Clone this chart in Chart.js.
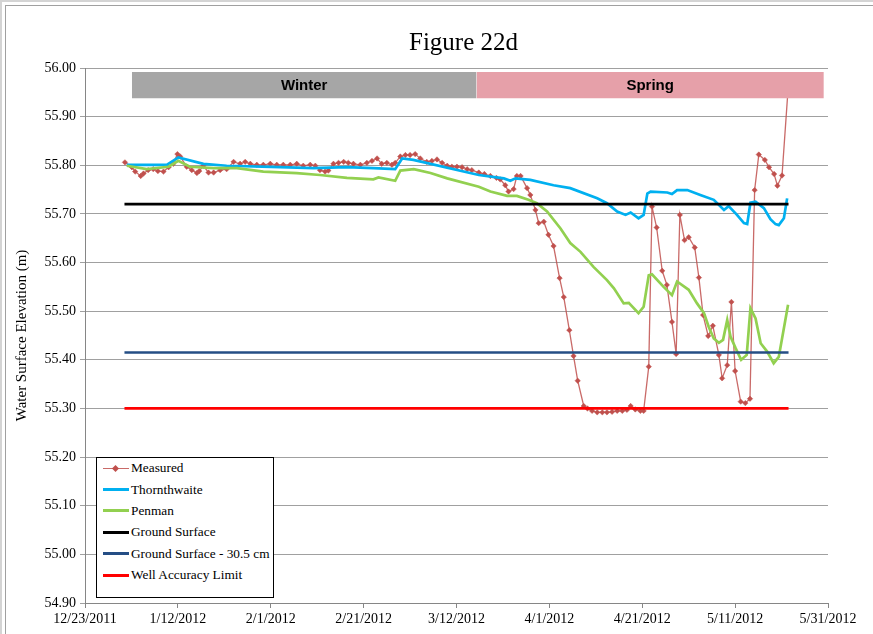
<!DOCTYPE html>
<html>
<head>
<meta charset="utf-8">
<title>Figure 22d</title>
<script src="https://cdn.jsdelivr.net/npm/chart.js@4.4.1/dist/chart.umd.min.js"></script>
<style>
  html, body { margin: 0; padding: 0; background: #fff; }
  #wrap { position: relative; width: 873px; height: 634px; overflow: hidden; background: #fff; }
  #frame1 { position: absolute; left: 0; top: 0; width: 1000px; height: 800px; border-left: 2px solid #d4d4d4; border-top: 2px solid #d4d4d4; }
  #frame2 { position: absolute; left: 5px; top: 5px; width: 1000px; height: 800px; border-left: 1px solid #a0a0a0; border-top: 1px solid #a0a0a0; }
  #chart { position: absolute; left: 0; top: 0; }
  #legend { position: absolute; left: 96px; top: 457px; width: 176px; height: 139px; border: 1px solid #000; background: #fff; font-family: "Liberation Serif", serif; font-size: 13.3px; color: #000; }
  .row { display: flex; align-items: center; height: 22.4px; margin-top: -1px; }
  .swatch { position: relative; width: 26px; margin-left: 6px; margin-right: 2px; }
  .swatch .ln { height: 3px; }
  .swatch .dot { position: absolute; left: 10px; top: -2px; width: 5px; height: 5px; transform: rotate(45deg); }
</style>
</head>
<body>
<div id="wrap">
  <div id="frame1"></div>
  <div id="frame2"></div>
  <canvas id="chart" width="873" height="634"></canvas>
  <div id="legend"></div>
</div>
<script>
// days counted from 12/23/2011
const tickDates = ['12/23/2011', '1/12/2012', '2/1/2012', '2/21/2012', '3/12/2012', '4/1/2012', '4/21/2012', '5/11/2012', '5/31/2012'];

const measuredDay = [8.6,10.1,10.8,12.0,12.6,13.6,14.7,15.7,16.9,18.0,19.0,19.9,20.5,21.9,23.0,24.1,24.6,25.5,26.6,27.7,29.1,30.5,32.0,33.4,34.5,35.6,37.0,38.4,39.9,41.3,42.7,44.2,45.6,47.0,48.5,49.6,50.6,51.7,52.4,53.5,54.6,55.7,56.7,57.8,59.3,60.7,61.8,62.9,63.9,65.0,66.1,66.8,67.9,69.0,70.0,71.1,72.2,73.6,74.7,75.8,76.9,78.0,79.0,80.1,81.2,82.3,83.3,84.8,86.0,87.3,88.6,89.4,90.5,91.2,92.3,93.0,93.8,95.2,95.9,97.0,97.7,98.8,99.8,100.9,102.2,103.1,104.3,105.2,106.1,107.4,108.2,109.2,110.3,111.4,112.4,113.5,114.6,115.7,116.7,117.5,118.5,119.6,120.3,121.4,122.1,123.1,124.3,125.3,126.4,127.3,128.1,129.1,130.0,131.3,132.2,133.1,134.2,135.2,136.5,137.2,138.3,139.2,140.0,141.2,142.2,143.2,144.2,145.1,146.4,147.3,148.4,149.1,150.1,151.5];
const measuredLevel = [55.806,55.796,55.787,55.778,55.783,55.790,55.792,55.788,55.787,55.796,55.803,55.823,55.818,55.797,55.790,55.784,55.788,55.799,55.785,55.785,55.790,55.792,55.807,55.803,55.807,55.803,55.801,55.801,55.803,55.801,55.801,55.801,55.803,55.799,55.801,55.799,55.790,55.787,55.789,55.803,55.805,55.807,55.805,55.803,55.801,55.805,55.809,55.814,55.803,55.805,55.801,55.805,55.818,55.821,55.821,55.823,55.814,55.807,55.809,55.812,55.805,55.799,55.797,55.797,55.796,55.792,55.790,55.785,55.782,55.778,55.774,55.771,55.759,55.746,55.751,55.778,55.778,55.753,55.739,55.708,55.681,55.684,55.657,55.634,55.568,55.529,55.461,55.408,55.357,55.305,55.300,55.295,55.292,55.292,55.292,55.293,55.295,55.295,55.297,55.305,55.298,55.295,55.295,55.386,55.715,55.672,55.583,55.554,55.478,55.412,55.698,55.646,55.652,55.631,55.569,55.492,55.449,55.470,55.410,55.362,55.389,55.519,55.377,55.314,55.311,55.320,55.749,55.822,55.811,55.796,55.782,55.758,55.779,55.97];

const thornDay = [9.0,17.6,20.1,25.5,30.5,42.0,49.2,56.4,62.1,66.8,68.3,70.7,84.8,90.2,91.6,92.7,95.9,100.9,104.5,110.3,112.4,114.6,116.4,117.5,119.2,120.3,121.1,121.8,125.4,126.4,127.5,129.7,132.5,135.4,137.6,138.6,140.4,141.9,142.6,143.3,144.4,146.2,147.6,148.7,149.4,150.5,151.2];
const thornLevel = [55.801,55.801,55.816,55.803,55.799,55.796,55.794,55.796,55.794,55.792,55.814,55.811,55.780,55.773,55.768,55.773,55.770,55.759,55.753,55.732,55.722,55.705,55.698,55.703,55.691,55.698,55.742,55.746,55.744,55.741,55.749,55.749,55.739,55.729,55.708,55.716,55.698,55.681,55.679,55.723,55.725,55.712,55.689,55.679,55.677,55.691,55.732];

const penmanDay = [9.0,13.3,18.0,20.1,22.6,27.7,32.7,38.4,45.6,50.6,56.4,62.1,63.2,66.8,67.9,70.8,74.4,78.0,84.8,87.3,90.9,93.0,95.5,97.3,99.5,102.4,104.5,106.7,109.5,112.4,113.9,116.0,117.1,119.2,120.3,121.4,122.1,124.6,126.4,127.5,130.0,131.8,133.3,134.3,135.4,136.5,137.4,138.3,139.0,140.1,141.3,142.5,143.3,144.4,145.5,146.9,148.3,149.4,151.4];
const penmanLevel = [55.799,55.792,55.797,55.809,55.797,55.794,55.794,55.787,55.784,55.780,55.774,55.771,55.775,55.768,55.789,55.792,55.784,55.773,55.756,55.746,55.737,55.737,55.729,55.722,55.705,55.670,55.640,55.622,55.591,55.564,55.547,55.516,55.517,55.496,55.509,55.574,55.576,55.550,55.533,55.561,55.544,55.516,55.496,55.468,55.444,55.435,55.441,55.482,55.448,55.424,55.400,55.410,55.506,55.485,55.434,55.417,55.393,55.406,55.513];

// horizontal reference levels
const refDays = [8.5, 151.5];
const groundSurface = 55.72;
const groundMinus305 = 55.415;
const wellLimit = 55.30;

// season bands
const seasonNames = ['Winter', 'Spring'];
const seasonStart = [10.1, 84.3];
const seasonEnd = [84.3, 159.1];
const seasonColors = ['#A6A6A6', '#E6A0A9'];
const seasonTop = 55.992;
const seasonBottom = 55.938;

const seriesNames = ['Measured', 'Thornthwaite', 'Penman', 'Ground Surface', 'Ground Surface - 30.5 cm', 'Well Accuracy Limit'];
const seriesColors = ['#C0504D', '#00B0F0', '#92D050', '#000000', '#254E85', '#FF0000'];

const chartTitle = 'Figure 22d';

const pts = (xs, ys) => xs.map((x, i) => ({ x: x, y: ys[i] }));
const flat = v => refDays.map(d => ({ x: d, y: v }));

const serif = 'Liberation Serif';

const datasets = [
  {
    label: seriesNames[0], data: pts(measuredDay, measuredLevel), order: 6,
    borderColor: 'rgba(192,80,77,0.85)', borderWidth: 1.3, backgroundColor: seriesColors[0],
    pointStyle: 'rectRot', pointRadius: 2.7, pointBorderWidth: 0.5, pointBorderColor: seriesColors[0], pointBackgroundColor: seriesColors[0]
  },
  { label: seriesNames[1], data: pts(thornDay, thornLevel), order: 5, borderColor: seriesColors[1], borderWidth: 2.7, pointRadius: 0 },
  { label: seriesNames[2], data: pts(penmanDay, penmanLevel), order: 4, borderColor: seriesColors[2], borderWidth: 2.7, pointRadius: 0 },
  { label: seriesNames[3], data: flat(groundSurface), order: 3, borderColor: seriesColors[3], borderWidth: 2.7, pointRadius: 0 },
  { label: seriesNames[4], data: flat(groundMinus305), order: 2, borderColor: seriesColors[4], borderWidth: 2.7, pointRadius: 0 },
  { label: seriesNames[5], data: flat(wellLimit), order: 1, borderColor: seriesColors[5], borderWidth: 2.7, pointRadius: 0 }
];

seasonNames.forEach((name, i) => {
  datasets.push({
    label: name, order: 0,
    data: [{ x: seasonStart[i], y: seasonTop }, { x: seasonEnd[i], y: seasonTop }],
    borderWidth: 0, borderColor: 'rgba(0,0,0,0)', pointRadius: 0,
    backgroundColor: seasonColors[i], fill: { value: seasonBottom }
  });
});

// season names on the bands, and the figure title centred over the plot
const chartText = {
  id: 'chartText',
  afterDatasetsDraw(chart) {
    const { ctx, chartArea, scales: { x, y } } = chart;
    ctx.save();
    ctx.fillStyle = '#000';
    ctx.textAlign = 'center';
    ctx.textBaseline = 'middle';
    ctx.font = 'bold 15px "Liberation Sans"';
    seasonNames.forEach((name, i) => {
      const cx = (x.getPixelForValue(seasonStart[i]) + x.getPixelForValue(seasonEnd[i])) / 2;
      const cy = (y.getPixelForValue(seasonTop) + y.getPixelForValue(seasonBottom)) / 2;
      ctx.fillText(name, cx, cy + 1);
    });
    ctx.font = '25px "Liberation Serif"';
    ctx.fillText(chartTitle, (chartArea.left + chartArea.right) / 2 + 7, chartArea.top - 25);
    ctx.restore();
  }
};

new Chart(document.getElementById('chart'), {
  type: 'line',
  data: { datasets: datasets },
  options: {
    responsive: false,
    animation: false,
    events: [],
    layout: { padding: { left: 0, right: 45, top: 68, bottom: 0 } },
    elements: { line: { tension: 0 } },
    plugins: {
      legend: { display: false },
      tooltip: { enabled: false }
    },
    scales: {
      x: {
        type: 'linear', min: 0, max: 160,
        afterFit: s => { s.height = 31; },
        grid: { drawOnChartArea: false, drawTicks: true, tickLength: 5, color: '#868686' },
        border: { color: '#868686' },
        ticks: {
          stepSize: 20, autoSkip: false, maxRotation: 0, padding: 3, color: '#000',
          font: { family: serif, size: 14 },
          callback: v => tickDates[Math.round(v / 20)]
        }
      },
      y: {
        min: 54.9, max: 56.0,
        afterFit: s => { s.width = 85; },
        grid: { color: '#A0A0A0', tickLength: 5 },
        border: { color: '#868686' },
        ticks: {
          stepSize: 0.1, padding: 4, color: '#000',
          font: { family: serif, size: 14 },
          callback: v => v.toFixed(2)
        },
        title: {
          display: true, text: 'Water Surface Elevation (m)', color: '#000',
          font: { family: serif, size: 15 }, padding: { top: 13, bottom: 0 }
        }
      }
    }
  },
  plugins: [chartText]
});

// legend box inside the plot, bottom left
const legend = document.getElementById('legend');
seriesNames.forEach((name, i) => {
  const row = document.createElement('div');
  row.className = 'row';
  const sw = document.createElement('div');
  sw.className = 'swatch';
  const ln = document.createElement('div');
  ln.className = 'ln';
  ln.style.background = seriesColors[i];
  if (i === 0) { ln.style.height = '1px'; ln.style.opacity = '0.85'; }
  sw.appendChild(ln);
  if (i === 0) {
    const dot = document.createElement('div');
    dot.className = 'dot';
    dot.style.background = seriesColors[0];
    sw.appendChild(dot);
  }
  const txt = document.createElement('span');
  txt.textContent = name;
  row.appendChild(sw);
  row.appendChild(txt);
  legend.appendChild(row);
});
</script>
</body>
</html>
